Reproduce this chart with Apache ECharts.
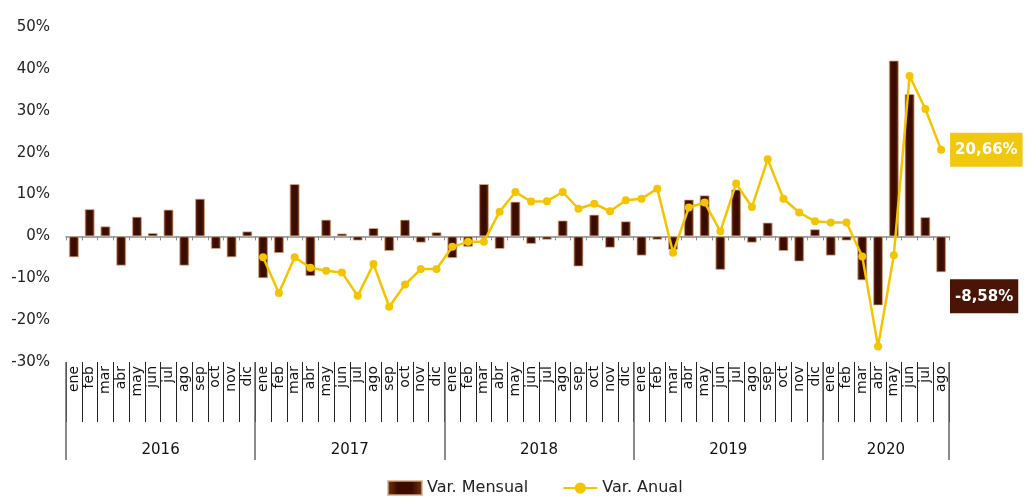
<!DOCTYPE html>
<html>
<head>
<meta charset="utf-8">
<script src="https://cdn.jsdelivr.net/npm/echarts@6/dist/echarts.min.js"></script>
<style>
  html, body { margin: 0; padding: 0; background: #fff; }
  #chart { width: 1031px; height: 503px; }
</style>
</head>
<body>
<div id="chart"></div>
<script>
// datos
var monthNames = ["ene", "feb", "mar", "abr", "may", "jun", "jul", "ago", "sep", "oct", "nov", "dic"];
var years = ["2016", "2017", "2018", "2019", "2020"];
var monthsPerYear = [12, 12, 12, 12, 8];

var varMensual = [
  -5.0, 6.5, 2.4, -7.0, 4.7, 0.8, 6.4, -7.0, 9.0, -3.0, -5.0, 1.2,
  -10.0, -4.0, 12.5, -9.5, 4.0, 0.7, -1.0, 2.0, -3.5, 4.0, -1.5, 1.0,
  -5.2, -2.5, 12.5, -3.0, 8.3, -1.8, -0.8, 3.8, -7.2, 5.2, -2.7, 3.6,
  -4.6, -0.8, -3.2, 8.8, 9.8, -8.0, 11.2, -1.5, 3.3, -3.5, -6.0, 1.7,
  -4.6, -1.0, -10.5, -16.5, 42.0, 34.0, 4.6, -8.58
];

// la variacion anual empieza en ene 2017
var varAnual = [
  null, null, null, null, null, null, null, null, null, null, null, null,
  -5.0, -13.5, -5.0, -7.5, -8.2, -8.6, -14.2, -6.6, -16.8, -11.5, -7.8, -7.8,
  -2.5, -1.3, -1.3, 5.9, 10.6, 8.3, 8.4, 10.6, 6.6, 7.8, 6.0, 8.6,
  9.0, 11.4, -3.9, 6.9, 8.1, 1.2, 12.6, 7.0, 18.4, 9.0, 5.7, 3.6,
  3.3, 3.3, -4.8, -26.3, -4.5, 38.3, 30.4, 20.66
];

var yTicks = { min: -30, max: 50, interval: 10 };

var font = "DejaVu Sans";

// categorias (mes) y limites de cada año
var categories = [];
var yearBounds = [0];
var yearCenters = [];
for (var y = 0; y < years.length; y++) {
  for (var m = 0; m < monthsPerYear[y]; m++) {
    categories.push(monthNames[m] + " " + years[y]);
  }
  var start = yearBounds[yearBounds.length - 1];
  yearBounds.push(start + monthsPerYear[y]);
  yearCenters.push(start + monthsPerYear[y] / 2);
}

function fmtPct(v) {
  return v.toFixed(2).replace(".", ",") + "%";
}

var last = varMensual.length - 1;

var barData = varMensual.map(function (v, i) {
  if (i !== last) return v;
  return {
    value: v,
    label: {
      show: true,
      position: "bottom",
      distance: 7,
      offset: [43, 0],
      formatter: function (p) { return fmtPct(p.value); },
      backgroundColor: "#4a1507",
      color: "#fff",
      fontFamily: font,
      fontWeight: "bold",
      fontSize: 15,
      padding: [10, 5, 9, 5]
    }
  };
});

var lineData = varAnual.map(function (v, i) {
  if (v === null) return "-";
  if (i !== last) return v;
  return {
    value: v,
    label: {
      show: true,
      position: "right",
      distance: 5,
      formatter: function (p) { return fmtPct(p.value); },
      backgroundColor: "#f2c80f",
      color: "#fff",
      fontFamily: font,
      fontWeight: "bold",
      fontSize: 15,
      padding: [10, 5, 9, 5]
    }
  };
});

var chart = echarts.init(document.getElementById("chart"));

var option = {
  animation: false,
  textStyle: { fontFamily: font },
  grid: { left: 66, right: 82, top: 27, bottom: 141 },
  legend: {
    bottom: 2,
    left: 382,
    itemGap: 34,
    itemWidth: 34,
    itemHeight: 14,
    textStyle: { fontSize: 16, color: "#222", fontFamily: font },
    data: [
      { name: "Var. Mensual", icon: "rect" },
      { name: "Var. Anual" }
    ]
  },
  xAxis: [
    {
      // linea del cero
      type: "category",
      data: categories,
      axisLine: { onZero: true, lineStyle: { color: "#8a8a8a", width: 1.5 } },
      axisTick: { show: true, length: 4, interval: 0, lineStyle: { color: "#8a8a8a" } },
      axisLabel: { show: false },
      splitLine: { show: false }
    },
    {
      // meses abajo
      type: "category",
      data: categories,
      position: "bottom",
      axisLine: { show: false, onZero: false },
      axisTick: { show: true, length: 60, interval: 0, lineStyle: { color: "#222" } },
      axisLabel: {
        interval: 0,
        rotate: 90,
        margin: 4,
        fontSize: 14,
        color: "#111",
        fontFamily: font,
        formatter: function (v) { return v.split(" ")[0]; }
      },
      splitLine: { show: false }
    },
    {
      // años
      type: "value",
      min: 0,
      max: categories.length,
      position: "bottom",
      axisLine: { show: false, onZero: false },
      axisTick: {
        show: true,
        length: 98,
        customValues: yearBounds,
        lineStyle: { color: "#666", width: 1.5 }
      },
      axisLabel: {
        margin: 81,
        fontSize: 15,
        color: "#111",
        fontFamily: font,
        customValues: yearCenters,
        formatter: function (v) {
          return years[yearCenters.indexOf(v)];
        }
      },
      splitLine: { show: false }
    }
  ],
  yAxis: {
    type: "value",
    min: yTicks.min,
    max: yTicks.max,
    interval: yTicks.interval,
    axisLine: { show: false },
    axisTick: { show: false },
    splitLine: { show: false },
    axisLabel: {
      formatter: "{value}%",
      margin: 16,
      fontSize: 15,
      color: "#222",
      fontFamily: font
    }
  },
  series: [
    {
      name: "Var. Mensual",
      type: "bar",
      xAxisIndex: 0,
      barWidth: 10,
      itemStyle: {
        color: new echarts.graphic.LinearGradient(0, 0, 1, 0, [
          { offset: 0, color: "#7a3512" },
          { offset: 0.3, color: "#3a0c00" },
          { offset: 0.7, color: "#3a0c00" },
          { offset: 1, color: "#7a3512" }
        ]),
        borderColor: "rgba(215,170,130,0.7)",
        borderWidth: 1
      },
      data: barData
    },
    {
      name: "Var. Anual",
      type: "line",
      xAxisIndex: 0,
      symbol: "circle",
      symbolSize: 8,
      connectNulls: false,
      lineStyle: { color: "#f4c400", width: 2.5 },
      itemStyle: { color: "#f4c400" },
      data: lineData
    }
  ]
};

chart.setOption(option);

window.addEventListener("resize", function () {
  chart.resize();
});
</script>
</body>
</html>
